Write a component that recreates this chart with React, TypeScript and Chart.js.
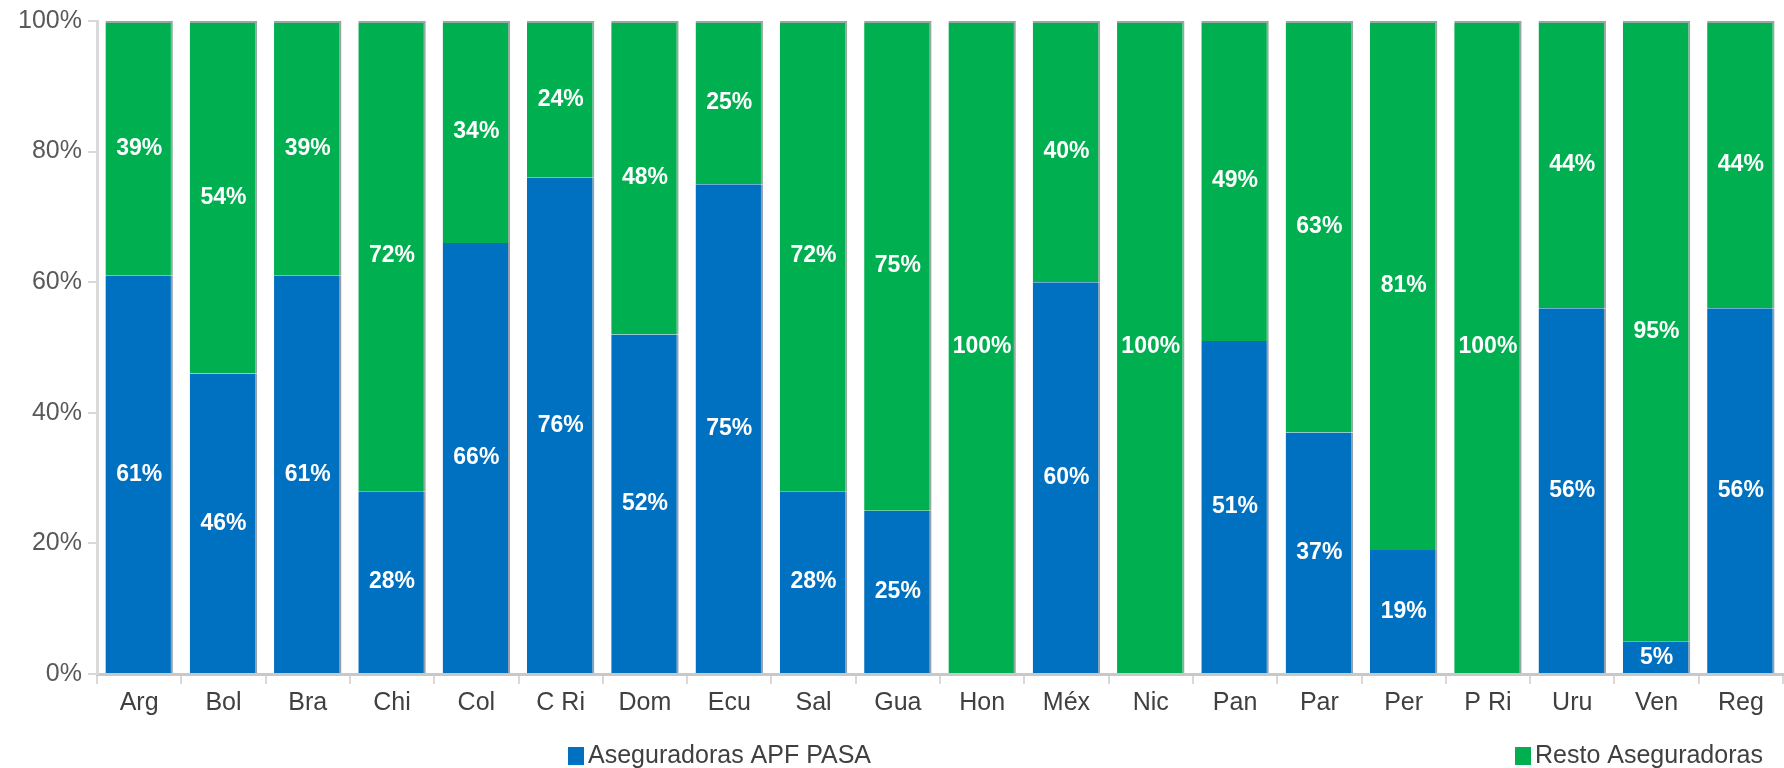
import React, { useEffect, useRef } from "react";
import { Chart, registerables } from "chart.js";

Chart.register(...registerables);

const categories = ["Arg", "Bol", "Bra", "Chi", "Col", "C Ri", "Dom", "Ecu", "Sal", "Gua", "Hon", "Méx", "Nic", "Pan", "Par", "Per", "P Ri", "Uru", "Ven", "Reg"];
const apfPasa = [61, 46, 61, 28, 66, 76, 52, 75, 28, 25, 0, 60, 0, 51, 37, 19, 0, 56, 5, 56];
const resto = [39, 54, 39, 72, 34, 24, 48, 25, 72, 75, 100, 40, 100, 49, 63, 81, 100, 44, 95, 44];
const seriesNames = ["Aseguradoras APF PASA", "Resto Aseguradoras"];
const yTicks = [0, 20, 40, 60, 80, 100];

const BLUE = "#0070C0";
const GREEN = "#00B050";
const FONT = "'Liberation Sans', Arial, sans-serif";

const labelPlugin = {
  id: "barLabels",
  afterDatasetsDraw(chart: any) {
    const ctx = chart.ctx;
    ctx.save();
    ctx.font = `bold 23px ${FONT}`;
    ctx.fillStyle = "#ffffff";
    ctx.textAlign = "center";
    ctx.textBaseline = "middle";
    chart.data.datasets.forEach((ds: any, di: number) => {
      const meta = chart.getDatasetMeta(di);
      meta.data.forEach((bar: any, i: number) => {
        const v = ds.data[i];
        if (!v) return;
        const cy = (bar.y + bar.base) / 2;
        ctx.fillText(v + "%", bar.x, cy);
      });
    });
    ctx.restore();
  },
};

const legendPlugin = {
  id: "customLegend",
  afterDraw(chart: any) {
    const ctx = chart.ctx;
    const xs = [568, 1515];
    const y = 756;
    ctx.save();
    ctx.font = `25px ${FONT}`;
    ctx.textBaseline = "middle";
    ctx.textAlign = "left";
    chart.data.datasets.forEach((ds: any, i: number) => {
      ctx.fillStyle = ds.backgroundColor;
      ctx.fillRect(xs[i], y - 9, 16, 18);
      ctx.fillStyle = "#404040";
      ctx.fillText(ds.label, xs[i] + 20, y);
    });
    ctx.restore();
  },
};

export default function App() {
  const ref = useRef<HTMLCanvasElement | null>(null);
  useEffect(() => {
    document.body.style.margin = "0";
    document.body.style.overflow = "hidden";
    const chart = new Chart(ref.current as HTMLCanvasElement, {
      type: "bar",
      data: {
        labels: categories,
        datasets: [
          {
            label: seriesNames[0],
            data: apfPasa,
            backgroundColor: BLUE,
            borderColor: "rgba(120,135,150,0.8)",
            borderWidth: { right: 2, left: 0, top: 0, bottom: 0 },
            borderSkipped: false,
            categoryPercentage: 1,
            barPercentage: 0.8,
          },
          {
            label: seriesNames[1],
            data: resto,
            backgroundColor: GREEN,
            borderColor: "rgba(120,150,135,0.8)",
            borderWidth: { right: 2, left: 0, top: 2, bottom: 0 },
            borderSkipped: false,
            categoryPercentage: 1,
            barPercentage: 0.8,
          },
        ],
      },
      options: {
        responsive: false,
        animation: false,
        layout: { padding: { top: 20, right: 1, left: 0, bottom: 0 } },
        plugins: { legend: { display: false }, tooltip: { enabled: false } },
        scales: {
          x: {
            stacked: true,
            grid: { offset: true, drawOnChartArea: false, color: "#d9d9d9", tickLength: 10, lineWidth: 2 },
            border: { color: "#c8c8c8", width: 3 },
            ticks: { color: "#404040", font: { family: FONT, size: 25 }, padding: 4, maxRotation: 0 },
            afterFit: (s: any) => { s.height = 94; },
          },
          y: {
            stacked: true,
            min: 0,
            max: 100,
            afterBuildTicks: (s: any) => { s.ticks = yTicks.map((v) => ({ value: v })); },
            grid: { drawOnChartArea: false, color: "#d9d9d9", tickLength: 9, lineWidth: 2 },
            border: { color: "#d9d9d9", width: 3 },
            ticks: { color: "#595959", font: { family: FONT, size: 25 }, padding: 6, callback: (v: any) => v + "%" },
            afterFit: (s: any) => { s.width = 97; },
          },
        },
      },
      plugins: [labelPlugin, legendPlugin],
    });
    return () => chart.destroy();
  }, []);
  return (
    <div style={{ width: 1784, height: 768 }}>
      <canvas ref={ref} width={1784} height={768} />
    </div>
  );
}
